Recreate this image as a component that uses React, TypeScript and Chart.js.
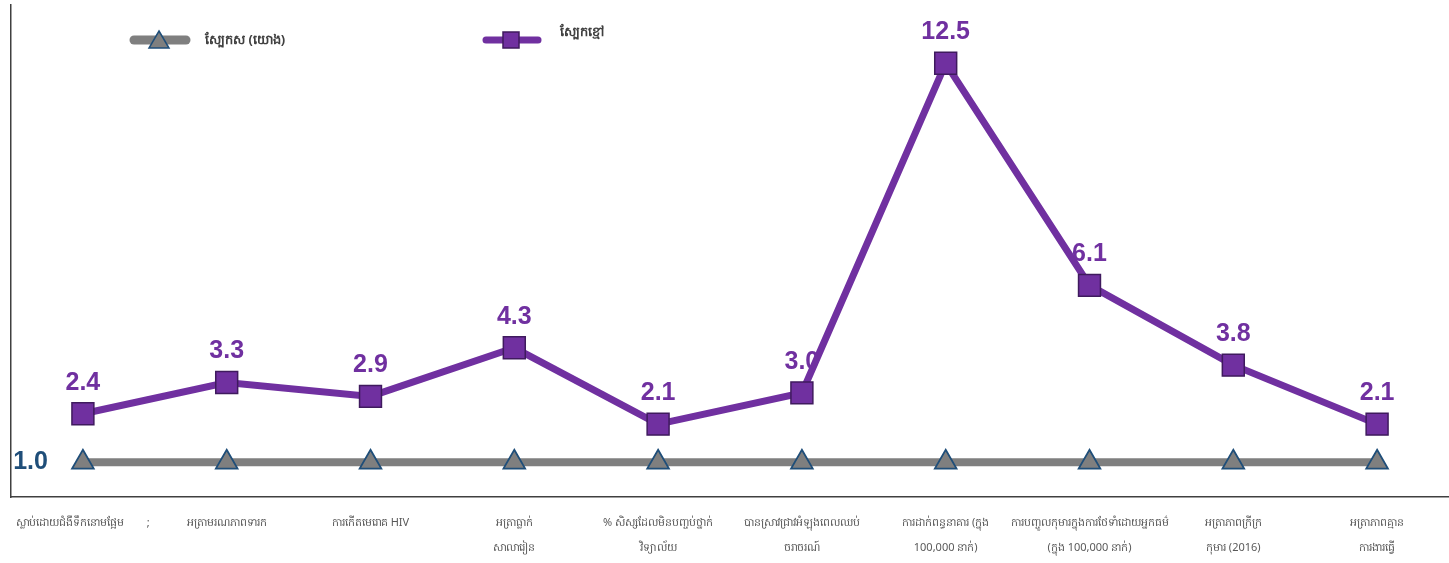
import React, { useEffect, useRef } from "react";
import { Chart, registerables } from "chart.js";

Chart.register(...registerables);

const categories: (string | string[])[] = [
  "ស្លាប់ដោយជំងឺទឹកនោមផ្អែម        ;",
  "អត្រាមរណភាពទារក",
  "ការកើតមេរោគ HIV",
  ["អត្រាធ្លាក់", "សាលារៀន"],
  ["% សិស្សដែលមិនបញ្ចប់ថ្នាក់", "វិទ្យាល័យ"],
  ["បានស្រាវជ្រាវអំឡុងពេលឈប់", "ចរាចរណ៍"],
  ["ការដាក់ពន្ធនាគារ (ក្នុង", "100,000 នាក់)"],
  ["ការបញ្ចូលកុមារក្នុងការថែទាំដោយអ្នកធម៌", "(ក្នុង 100,000 នាក់)"],
  ["អត្រាភាពក្រីក្រ", "កុមារ (2016)"],
  ["អត្រាភាពគ្មាន", "ការងារធ្វើ"],
];

const whiteLabel = "ស្បែកស (យោង)";
const blackLabel = "ស្បែកខ្មៅ";
const whiteValues = [1.0, 1.0, 1.0, 1.0, 1.0, 1.0, 1.0, 1.0, 1.0, 1.0];
const blackValues = [2.4, 3.3, 2.9, 4.3, 2.1, 3.0, 12.5, 6.1, 3.8, 2.1];

const GRAY = "#7f7f7f";
const NAVY = "#1f4e79";
const PURPLE = "#7030a0";
const DARKPURPLE = "#3f1a5e";

const labelPlugin = {
  id: "valueLabels",
  afterDatasetsDraw(chart: any) {
    const ctx = chart.ctx;
    ctx.save();
    ctx.font = "bold 25px 'Liberation Sans', Arial, sans-serif";
    ctx.textAlign = "center";
    ctx.textBaseline = "middle";
    const metaB = chart.getDatasetMeta(1);
    metaB.data.forEach((pt: any, i: number) => {
      ctx.fillStyle = PURPLE;
      ctx.fillText(blackValues[i].toFixed(1), pt.x, pt.y - 31);
    });
    const metaW = chart.getDatasetMeta(0);
    const p0 = metaW.data[0];
    ctx.fillStyle = NAVY;
    ctx.textAlign = "right";
    ctx.fillText(whiteValues[0].toFixed(1), p0.x - 35, p0.y);
    ctx.restore();
  },
  afterDraw(chart: any) {
    const ctx = chart.ctx;
    ctx.save();
    // legend item 1
    ctx.lineCap = "round";
    ctx.strokeStyle = GRAY;
    ctx.lineWidth = 9;
    ctx.beginPath();
    ctx.moveTo(134, 40);
    ctx.lineTo(186, 40);
    ctx.stroke();
    ctx.fillStyle = GRAY;
    ctx.strokeStyle = NAVY;
    ctx.lineWidth = 1.5;
    ctx.beginPath();
    ctx.moveTo(159, 31);
    ctx.lineTo(169, 48);
    ctx.lineTo(149, 48);
    ctx.closePath();
    ctx.fill();
    ctx.stroke();
    ctx.fillStyle = "#404040";
    ctx.font = "bold 13px 'Noto Sans', sans-serif";
    ctx.textAlign = "left";
    ctx.textBaseline = "middle";
    ctx.fillText(whiteLabel, 205, 40);
    // legend item 2
    ctx.strokeStyle = PURPLE;
    ctx.lineWidth = 7;
    ctx.beginPath();
    ctx.moveTo(486, 40);
    ctx.lineTo(538, 40);
    ctx.stroke();
    ctx.fillStyle = PURPLE;
    ctx.strokeStyle = DARKPURPLE;
    ctx.lineWidth = 1.5;
    ctx.fillRect(503, 32, 16, 16);
    ctx.strokeRect(503, 32, 16, 16);
    ctx.fillStyle = "#404040";
    ctx.fillText(blackLabel, 560, 32);
    ctx.restore();
  },
};

export default function App() {
  const ref = useRef<HTMLCanvasElement>(null);
  useEffect(() => {
    document.body.style.margin = "0";
    const chart = new Chart(ref.current!, {
      type: "line",
      data: {
        labels: categories,
        datasets: [
          {
            label: whiteLabel,
            data: whiteValues,
            borderColor: GRAY,
            borderWidth: 8,
            pointStyle: "triangle",
            pointRadius: 12.5,
            pointBackgroundColor: GRAY,
            pointBorderColor: NAVY,
            pointBorderWidth: 1.8,
            tension: 0,
          },
          {
            label: blackLabel,
            data: blackValues,
            borderColor: PURPLE,
            borderWidth: 7,
            pointStyle: "rect",
            pointRadius: 15.5,
            pointBackgroundColor: PURPLE,
            pointBorderColor: DARKPURPLE,
            pointBorderWidth: 1.5,
            tension: 0,
          },
        ],
      },
      options: {
        animation: false,
        responsive: false,
        layout: { padding: 0, autoPadding: false },
        plugins: { legend: { display: false }, tooltip: { enabled: false } },
        scales: {
          x: {
            offset: true,
            grid: { display: false, drawTicks: false },
            border: { display: true, color: "#404040", width: 1.5 },
            ticks: {
              autoSkip: false,
              maxRotation: 0,
              minRotation: 0,
              padding: 13,
              color: "#595959",
              font: { size: 11, family: "'Noto Sans', sans-serif", lineHeight: 2.3 },
            },
            afterFit: (s: any) => {
              s.height = 66;
              s.paddingLeft = 0;
              s.paddingRight = 0;
            },
          },
          y: {
            min: 0,
            max: 14.18,
            grid: { display: false, drawTicks: false },
            border: { display: true, color: "#404040", width: 1.5 },
            ticks: { display: false },
            afterFit: (s: any) => {
              s.width = 11;
              s.paddingTop = 5;
              s.paddingBottom = 0;
            },
          },
        },
      },
      plugins: [labelPlugin],
    });
    return () => chart.destroy();
  }, []);
  return (
    <div style={{ width: 1449, height: 563 }}>
      <canvas ref={ref} width={1449} height={563} style={{ display: "block" }} />
    </div>
  );
}
